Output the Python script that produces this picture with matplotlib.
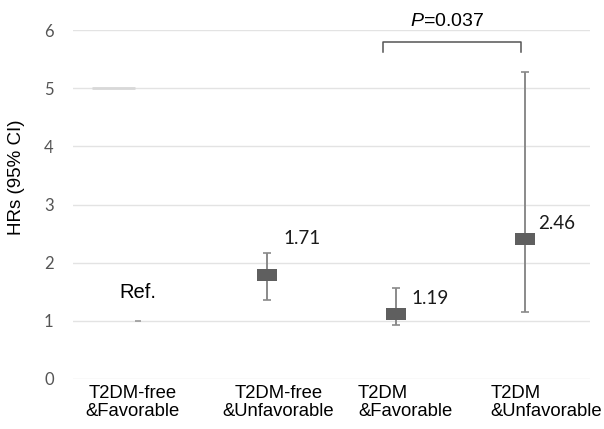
import matplotlib
matplotlib.use("Agg")
import matplotlib.pyplot as plt
from matplotlib.path import Path
import numpy as np

# ---- data ----
categories = ["T2DM-free\n&Favorable", "T2DM-free\n&Unfavorable", "T2DM\n&Favorable", "T2DM\n&Unfavorable"]
hr_marker = [1.79, 1.12, 2.41]          # plotted marker positions (cat 2..4)
ci_low = [1.36, 0.93, 1.16]
ci_high = [2.17, 1.57, 5.27]
hr_labels = ["1.71", "1.19", "2.46"]
ref_value = 1.0
ref_label = "Ref."
stray_line_y = 5.0
p_text_value = "0.037"
y_ticks = [0, 1, 2, 3, 4, 5, 6]

plt.rcParams['mathtext.fontset'] = 'custom'
plt.rcParams['mathtext.it'] = 'Liberation Sans:italic'
plt.rcParams['mathtext.rm'] = 'Liberation Sans'

fig = plt.figure(figsize=(6.04, 4.29), dpi=100)
ax = fig.add_axes([0.121, 0.1166, 0.856, 0.8134])
ax.set_xlim(-0.5, 3.5)
ax.set_ylim(0, 6)

for s in ax.spines.values():
    s.set_visible(False)
ax.set_yticks(y_ticks)
ax.yaxis.grid(True, color="#e3e3e3", lw=1.0)
ax.set_axisbelow(True)
ax.tick_params(axis='y', length=0, pad=14, labelsize=12, labelcolor="#555555")
for t in ax.get_yticklabels():
    t.set_family("Lato")
ax.set_xticks([])

# rectangle marker
rect = Path([(-1, -0.62), (1, -0.62), (1, 0.62), (-1, 0.62), (-1, -0.62)],
            [Path.MOVETO, Path.LINETO, Path.LINETO, Path.LINETO, Path.CLOSEPOLY])

xs = np.arange(1, 4)
hr = np.array(hr_marker)
yerr = np.array([hr - np.array(ci_low), np.array(ci_high) - hr])
ax.errorbar(xs, hr, yerr=yerr, fmt='none', ecolor="#8a8a8a", elinewidth=1.4,
            capsize=3, capthick=1.2, zorder=2)
ax.plot(xs, hr, linestyle='none', marker=rect, markersize=14,
        color="#5f5f5f", markeredgewidth=0, zorder=3)

# reference
ax.plot([0], [ref_value], marker='_', markersize=5, color="#9a9a9a", mew=1.2)
ax.text(0, ref_value + 0.48, ref_label, ha='center', va='center', fontsize=14.5,
        family="Liberation Sans")
ax.hlines(stray_line_y, -0.35, -0.02, color="#d8d8d8", lw=2)

# value labels
label_dx = [0.13, 0.12, 0.10]
label_dy = [0.63, 0.27, 0.27]
for i, (x, y, lab) in enumerate(zip(xs, hr, hr_labels)):
    ax.text(x + label_dx[i], y + label_dy[i], lab, ha='left', va='center',
            fontsize=13.5, family="Lato", color="#1a1a1a")

# bracket
bx0, bx1 = 1.90, 2.965
ax.plot([bx0, bx0, bx1, bx1], [5.62, 5.8, 5.8, 5.62], color="#555555", lw=1.1,
        clip_on=False)
ax.text(2.39, 6.14, r"$\it{P}$=" + p_text_value, ha='center',
        va='center', fontsize=14, family="Liberation Sans", clip_on=False)

# x labels
xlab_pos = [-0.04, 1.09, 1.705, 2.73]
xlab_ha = ['center', 'center', 'left', 'left']
for i, lab in enumerate(categories):
    ax.text(xlab_pos[i], -0.1, lab, ha=xlab_ha[i], va='top', multialignment=xlab_ha[i],
            fontsize=13.3, family="Liberation Sans", linespacing=1.1,
            transform=ax.transData, clip_on=False)

fig.text(0.028, 0.587, "HRs (95% CI)", rotation=90, ha='center', va='center',
         fontsize=13.5, family="Liberation Sans")

fig.savefig("out.png", dpi=100)
